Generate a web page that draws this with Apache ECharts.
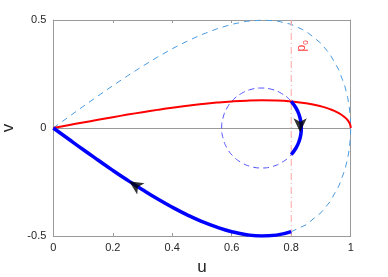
<!DOCTYPE html>
<html>
<head>
<meta charset="utf-8">
<script src="https://cdn.jsdelivr.net/npm/echarts@6/dist/echarts.min.js"></script>
<style>html,body{margin:0;padding:0;background:#fff;}#c{width:388px;height:277px;}</style>
</head>
<body>
<div id="c"></div>
<script>
// Dashed outer curve (upper branch 0 -> 1, then lower branch 1 -> 0.8)
const outerDashed = [
  [0,0],[0.05,0.0499],[0.1,0.0995],[0.15,0.148],[0.2,0.196],[0.25,0.242],[0.3,0.286],
  [0.35,0.328],[0.4,0.367],[0.45,0.402],[0.5,0.433],[0.55,0.459],[0.6,0.48],[0.65,0.494],
  [0.7,0.4999],[0.75,0.496],[0.8,0.48],[0.85,0.448],[0.9,0.392],[0.93,0.342],[0.96,0.269],
  [0.98,0.195],[0.99,0.14],[0.995,0.099],[0.999,0.045],[1,0],
  [0.999,-0.045],[0.995,-0.099],[0.99,-0.14],[0.98,-0.195],[0.96,-0.269],[0.93,-0.342],
  [0.9,-0.392],[0.85,-0.448],[0.8,-0.48]
];
// Red curve
const redCurve = [
  [0,0],[0.05,0.0128],[0.1,0.0255],[0.15,0.0379],[0.2,0.0502],[0.25,0.062],[0.3,0.0732],
  [0.35,0.0839],[0.4,0.0939],[0.45,0.1029],[0.5,0.1109],[0.55,0.1176],[0.6,0.1229],
  [0.65,0.1265],[0.7,0.128],[0.75,0.127],[0.8,0.1229],[0.85,0.1146],[0.9,0.1004],
  [0.93,0.0876],[0.96,0.0689],[0.98,0.05],[0.99,0.0358],[0.995,0.0254],[0.999,0.0114],[1,0]
];
// Thick blue lower branch (0.8 -> 0)
const blueLower = [
  [0.8,-0.48],[0.75,-0.496],[0.7,-0.4999],[0.65,-0.494],[0.6,-0.48],[0.55,-0.459],
  [0.5,-0.433],[0.45,-0.402],[0.4,-0.367],[0.35,-0.328],[0.3,-0.286],[0.25,-0.242],
  [0.2,-0.196],[0.15,-0.148],[0.1,-0.0995],[0.05,-0.0499],[0,0]
];
// Dashed small circle
const circleDashed = [
  [0.834,0],[0.829,0.0479],[0.816,0.0925],[0.795,0.1308],[0.767,0.1602],[0.735,0.1787],
  [0.7,0.185],[0.665,0.1787],[0.633,0.1602],[0.605,0.1308],[0.584,0.0925],[0.571,0.0479],
  [0.566,0],[0.571,-0.0479],[0.584,-0.0925],[0.605,-0.1308],[0.633,-0.1602],[0.665,-0.1787],
  [0.7,-0.185],[0.735,-0.1787],[0.767,-0.1602],[0.795,-0.1308],[0.816,-0.0925],[0.829,-0.0479],
  [0.834,0]
];
// Thick blue arc on circle
const blueArc = [
  [0.8,0.123],[0.816,0.0925],[0.826,0.0633],[0.832,0.0321],[0.834,0],
  [0.832,-0.0321],[0.826,-0.0633],[0.816,-0.0925],[0.8,-0.123]
];
// p0 vertical line
const p0Line = [[0.8,-0.5],[0.8,0.5]];
const p0LabelPos = [0.834, 0.38];
// Arrows: [u, v, rotation]
const arrows = [[0.255,-0.246,56.7],[0.83,-0.02,180]];
const xTicks = ['0','0.2','0.4','0.6','0.8','1'];
const yTicks = ['-0.5','0','0.5'];

const chart = echarts.init(document.getElementById('c'), null, {renderer:'canvas'});
const axisCol = '#9a9a9a';
const labCol = '#262626';
const ff = 'Liberation Sans, Arial, sans-serif';
function lineSeries(data, color, width, type, z, smooth){
  return {type:'line', data, showSymbol:false, smooth: smooth||false, z:z, silent:true,
    lineStyle:{color, width, type}, animation:false};
}
chart.setOption({
  animation:false,
  grid:{left:53.3, right:37.3, top:20, bottom:41, containLabel:false, outerBoundsMode:'none'},
  xAxis:[{
    type:'value', min:0, max:1, interval:0.2,
    name:'u', nameLocation:'middle', nameGap:23,
    nameTextStyle:{fontSize:17, color:labCol, fontFamily:ff},
    axisLine:{show:true, onZero:false, lineStyle:{color:axisCol, width:1}},
    axisTick:{show:true, inside:true, length:3, lineStyle:{color:axisCol}},
    axisLabel:{color:labCol, fontSize:11, fontFamily:ff, margin:6,
      formatter:(v)=>{const i=Math.round(v/0.2); return xTicks[i]!==undefined?xTicks[i]:'';}},
    splitLine:{show:false}
  },{
    type:'value', min:0, max:1, interval:0.2, position:'top',
    axisLine:{show:true, onZero:false, lineStyle:{color:axisCol, width:1}},
    axisTick:{show:true, inside:true, length:3, lineStyle:{color:axisCol}},
    axisLabel:{show:false}, splitLine:{show:false}
  }],
  yAxis:[{
    type:'value', min:-0.5, max:0.5, interval:0.5,
    name:'v', nameLocation:'middle', nameGap:30, nameRotate:90,
    nameTextStyle:{fontSize:17, color:labCol, fontFamily:ff},
    axisLine:{show:true, onZero:false, lineStyle:{color:axisCol, width:1}},
    axisTick:{show:true, inside:true, length:3, lineStyle:{color:axisCol}},
    axisLabel:{color:labCol, fontSize:11, fontFamily:ff, margin:7,
      formatter:(v)=>{const i=Math.round(v/0.5)+1; return yTicks[i]!==undefined?yTicks[i]:'';}},
    splitLine:{show:true, lineStyle:{color:axisCol, width:1}}
  },{
    type:'value', min:-0.5, max:0.5, interval:0.5, position:'right',
    axisLine:{show:true, onZero:false, lineStyle:{color:axisCol, width:1}},
    axisTick:{show:true, inside:true, length:3, lineStyle:{color:axisCol}},
    axisLabel:{show:false}, splitLine:{show:false}
  }],
  series:[
    lineSeries(outerDashed, '#4a9be0', 1, [6,5], 2, false),
    lineSeries(circleDashed, '#5050ff', 1, [6,4], 2, true),
    lineSeries(p0Line, '#ffa6a6', 1, [7,3,1,3], 3, false),
    lineSeries(redCurve, '#ff0000', 2, 'solid', 4, true),
    lineSeries(blueLower, '#0000ff', 3.5, 'solid', 5, true),
    lineSeries(blueArc, '#0000ff', 3.5, 'solid', 5, true),
    {type:'scatter', data:arrows.map(a=>({value:[a[0],a[1]], symbolRotate:a[2]})),
     symbol:'arrow', symbolSize:[10,14], itemStyle:{color:'#000'}, z:6, silent:true, animation:false},
    {type:'scatter', data:[p0LabelPos], symbolSize:0, silent:true, animation:false, z:7,
     label:{show:true, position:'inside', rotate:90, color:'#ff0000',
       formatter:'{a|p}{b|0}',
       rich:{a:{fontSize:12, fontFamily:ff, color:'#ff0000', verticalAlign:'middle'},
             b:{fontSize:8, fontFamily:ff, color:'#ff0000', verticalAlign:'middle', padding:[8,0,0,0]}}}}
  ]
});
</script>
</body>
</html>
